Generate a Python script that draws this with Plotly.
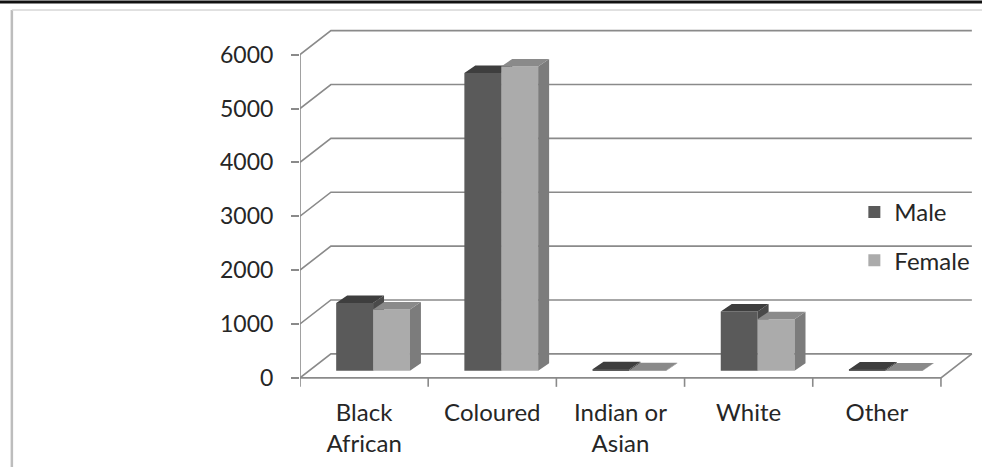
import plotly.graph_objects as go

# Population by population group and sex
categories = ["Black African", "Coloured", "Indian or Asian", "White", "Other"]
tick_labels = ["Black<br>African", "Coloured", "Indian or<br>Asian", "White", "Other"]
male = [1260, 5530, 30, 1100, 25]
female = [1140, 5650, 10, 960, 8]
y_ticks = [0, 1000, 2000, 3000, 4000, 5000, 6000]

# ---- geometry of the pseudo-3D box (axis units) ----
X_RANGE = [-0.5, 4.75]
Y_RANGE = [-300, 6550]
W_PX, H_PX = 675, 369
PX_X = W_PX / (X_RANGE[1] - X_RANGE[0])
PX_Y = H_PX / (Y_RANGE[1] - Y_RANGE[0])

BACK_DX, BACK_DY = 31 / PX_X, 24 / PX_Y          # depth of the floor / back wall
PLANE_DX, PLANE_DY = 9 / PX_X, 7 / PX_Y          # front plane of the bar row
DEPTH_DX, DEPTH_DY = 11 / PX_X, 7.5 / PX_Y       # depth of each bar
BAR_W = 37 / PX_X
TICK_LEN = 9 / PX_Y

n = len(categories)
x_lo, x_hi = -0.5, n - 0.5

GRID = "#8a8a8a"
MALE_FRONT, MALE_TOP, MALE_SIDE = "#5a5a5a", "#3e3e3e", "#4a4a4a"
FEM_FRONT, FEM_TOP, FEM_SIDE = "#ababab", "#8a8a8a", "#7c7c7c"
FONT = "Lato"
TEXT = "#262626"
FS = 24

fig = go.Figure()

# ---- walls, floor and axis lines ----
gx, gy = [], []
for v in y_ticks:
    # diagonal from the front axis to the back wall, then the back gridline
    gx += [x_lo, x_lo + BACK_DX, x_hi + BACK_DX, None]
    gy += [v, v + BACK_DY, v + BACK_DY, None]
# front vertical axis
gx += [x_lo, x_lo, None]
gy += [y_ticks[0], y_ticks[-1], None]
# floor front edge and right edge
gx += [x_lo, x_hi, x_hi + BACK_DX, None]
gy += [0, 0, BACK_DY, None]
# category separators on the floor front edge
for i in range(n + 1):
    gx += [x_lo + i, x_lo + i, None]
    gy += [0, -TICK_LEN, None]
fig.add_trace(go.Scatter(x=gx, y=gy, mode="lines", line=dict(color=GRID, width=1.6),
                         hoverinfo="skip", showlegend=False, xaxis="x", yaxis="y"))


def faces(values, offset):
    """Top and right-side polygons of each bar, in axis units."""
    tx, ty, sx, sy = [], [], [], []
    for i, v in enumerate(values):
        xl = i + offset
        xr = xl + BAR_W
        b = PLANE_DY
        t = PLANE_DY + v
        tx += [xl, xr, xr + DEPTH_DX, xl + DEPTH_DX, xl, None]
        ty += [t, t, t + DEPTH_DY, t + DEPTH_DY, t, None]
        sx += [xr, xr, xr + DEPTH_DX, xr + DEPTH_DX, xr, None]
        sy += [b, t, t + DEPTH_DY, b + DEPTH_DY, b, None]
    return tx, ty, sx, sy


def add_series(name, values, offset, front, top, side, xa, ya, group):
    xs = list(range(n))
    fig.add_trace(go.Bar(x=xs, y=values, base=PLANE_DY, width=BAR_W, offset=offset,
                         name=name, marker=dict(color=front, line=dict(width=0)),
                         customdata=categories,
                         hovertemplate="%{customdata}: %{y}<extra>" + name + "</extra>",
                         legendgroup=group, xaxis=xa, yaxis=ya))
    tx, ty, sx, sy = faces(values, offset)
    fig.add_trace(go.Scatter(x=sx, y=sy, mode="lines", fill="toself", fillcolor=side,
                             line=dict(width=0, color=side), hoverinfo="skip",
                             showlegend=False, xaxis=xa, yaxis=ya))
    fig.add_trace(go.Scatter(x=tx, y=ty, mode="lines", fill="toself", fillcolor=top,
                             line=dict(width=0, color=top), hoverinfo="skip",
                             showlegend=False, xaxis=xa, yaxis=ya))


# male row on its own overlay, female row drawn over it
add_series("Male", male, PLANE_DX - BAR_W, MALE_FRONT, MALE_TOP, MALE_SIDE, "x2", "y2", "m")
add_series("Female", female, PLANE_DX, FEM_FRONT, FEM_TOP, FEM_SIDE, "x3", "y3", "f")

hidden_x = dict(range=X_RANGE, visible=False, fixedrange=True, overlaying="x")
hidden_y = dict(range=Y_RANGE, visible=False, fixedrange=True, overlaying="y")

fig.update_layout(
    width=982, height=467,
    margin=dict(l=300, r=7, t=25, b=73),
    paper_bgcolor="white", plot_bgcolor="rgba(0,0,0,0)",
    barmode="overlay",
    font=dict(family=FONT, size=FS, color=TEXT),
    xaxis=dict(range=X_RANGE, tickmode="array", tickvals=list(range(n)), ticktext=tick_labels,
               showgrid=False, zeroline=False, showline=False, ticks="",
               ticklabelstandoff=2, tickfont=dict(family=FONT, size=FS, color=TEXT),
               fixedrange=True),
    yaxis=dict(range=Y_RANGE, tickmode="array", tickvals=y_ticks,
               showgrid=False, zeroline=False, showline=False,
               ticks="outside", ticklen=8, tickwidth=1.6, tickcolor=GRID,
               ticklabelstandoff=13, tickfont=dict(family=FONT, size=23, color=TEXT),
               fixedrange=True),
    xaxis2=hidden_x, yaxis2=hidden_y,
    xaxis3=hidden_x, yaxis3=hidden_y,
    legend=dict(x=(856 - 300) / W_PX, xanchor="left", y=(394 - 190) / H_PX, yanchor="top",
                traceorder="grouped", tracegroupgap=14, bgcolor="rgba(0,0,0,0)",
                font=dict(family=FONT, size=FS, color=TEXT), itemclick=False,
                itemdoubleclick=False),
    shapes=[
        # outer chart frame
        dict(type="line", xref="paper", yref="paper",
             x0=(11 - 300) / W_PX, x1=(11 - 300) / W_PX,
             y0=(394 - 10) / H_PX, y1=(394 - 470) / H_PX,
             line=dict(color="#bdbdbd", width=2.5)),
        dict(type="line", xref="paper", yref="paper",
             x0=(11 - 300) / W_PX, x1=(985 - 300) / W_PX,
             y0=(394 - 10) / H_PX, y1=(394 - 10) / H_PX,
             line=dict(color="#d6d6d6", width=1.5)),
        # rule along the top edge
        dict(type="line", xref="paper", yref="paper",
             x0=(-5 - 300) / W_PX, x1=(990 - 300) / W_PX,
             y0=(394 - 2) / H_PX, y1=(394 - 2) / H_PX,
             line=dict(color="#111111", width=3)),
    ],
)

fig.write_html("out.html")
